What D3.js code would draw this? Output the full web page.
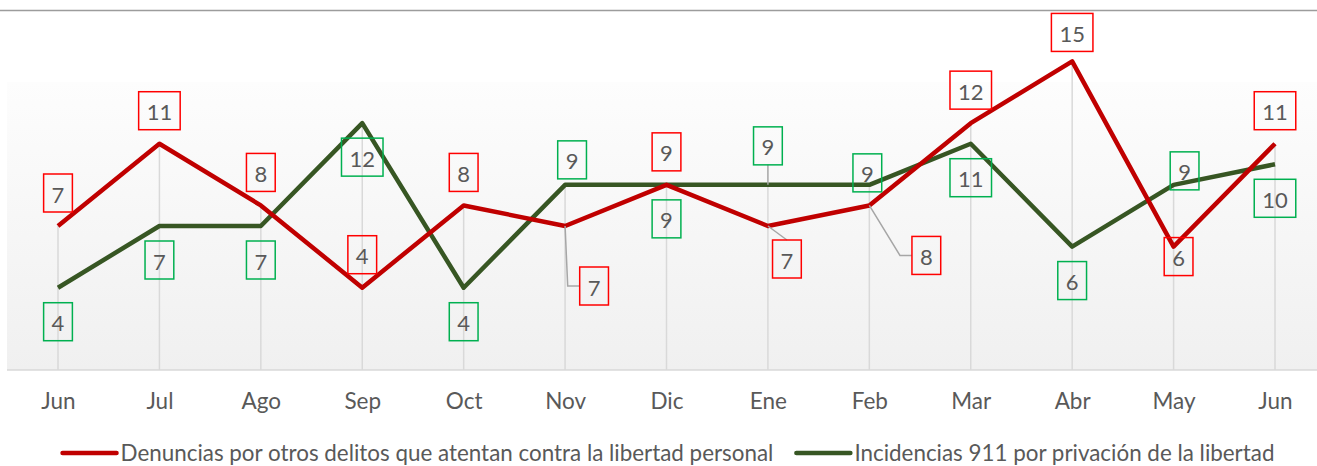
<!DOCTYPE html>
<html lang="es">
<head>
    <meta charset="UTF-8">
    <title>Denuncias e incidencias 911</title>
    <script src="https://cdn.jsdelivr.net/npm/d3@7"></script>
    <style>
        body {
            margin: 0;
            background: #fff;
            font-family: 'Lato', sans-serif;
        }
        .axis-label { font-size: 22.5px; fill: #595959; text-anchor: middle; }
        .legend-label { font-size: 22.4px; fill: #595959; }
        .data-label { font-size: 22px; fill: #595959; text-anchor: middle; dominant-baseline: central; }
    </style>
</head>
<body>
    <div id="chart"></div>
    <script>
        // categories (two "Jun": start and end of the period)
        const months = ['Jun', 'Jul', 'Ago', 'Sep', 'Oct', 'Nov', 'Dic', 'Ene', 'Feb', 'Mar', 'Abr', 'May', 'Jun'];
        const denuncias = [7, 11, 8, 4, 8, 7, 9, 7, 8, 12, 15, 6, 11];
        const incidencias = [4, 7, 7, 12, 4, 9, 9, 9, 9, 11, 6, 9, 10];
        const seriesNames = [
            'Denuncias por otros delitos que atentan contra la libertad personal',
            'Incidencias 911 por privación de la libertad'
        ];

        // label placement (offset of the label box from its point, in px), null = default side
        const denunciasLabelPos = [null, null, null, null, null,
            { dx: 29, dy: 60, leader: 'left' }, null,
            { dx: 19, dy: 33, leader: 'top' },
            { dx: 57, dy: 50, leader: 'left' }, null,
            { dx: 0, dy: -29 }, { dx: 5, dy: 10 }, null];
        const incidenciasLabelPos = [null, null, null, null, null,
            { dx: 7, dy: -25 }, null,
            { dx: 0, dy: -39, leader: 'bottom' },
            { dx: -2, dy: -12 }, null, null,
            { dx: 11, dy: -14 }, null];

        const width = 1317, height = 466;
        const plotLeft = 7, plotTop = 82, plotBottom = 370;

        const svg = d3.select('#chart').append('svg')
            .attr('width', width)
            .attr('height', height);

        const defs = svg.append('defs');
        const grad = defs.append('linearGradient')
            .attr('id', 'plotbg')
            .attr('x1', 0).attr('y1', 0).attr('x2', 0).attr('y2', 1);
        grad.append('stop').attr('offset', '0%').attr('stop-color', '#fdfdfd');
        grad.append('stop').attr('offset', '100%').attr('stop-color', '#f0f0f0');

        // top border
        svg.append('line')
            .attr('x1', 0).attr('x2', width)
            .attr('y1', 10.5).attr('y2', 10.5)
            .attr('stroke', '#9c9c9c')
            .attr('stroke-width', 1.6);

        svg.append('rect')
            .attr('x', plotLeft).attr('y', plotTop)
            .attr('width', width - plotLeft).attr('height', plotBottom - plotTop)
            .attr('fill', 'url(#plotbg)');

        const x = d3.scalePoint()
            .domain(d3.range(months.length))
            .range([58, 1275]);

        const y = d3.scaleLinear()
            .domain([0, 14])
            .range([plotBottom, plotTop]);

        // drop lines from the highest point to the axis
        svg.append('g')
            .selectAll('line')
            .data(months.map((m, i) => Math.max(denuncias[i], incidencias[i])))
            .join('line')
            .attr('x1', (d, i) => x(i)).attr('x2', (d, i) => x(i))
            .attr('y1', d => y(d)).attr('y2', plotBottom)
            .attr('stroke', '#d9d9d9')
            .attr('stroke-width', 1.5);

        // x axis
        const xAxis = svg.append('g')
            .attr('transform', `translate(0,${plotBottom})`)
            .call(d3.axisBottom(x).tickSize(0).tickPadding(0).tickFormat(i => months[i]))
            .attr('font-family', null)
            .attr('font-size', null);
        xAxis.select('.domain').remove();
        xAxis.selectAll('text')
            .attr('class', 'axis-label')
            .attr('fill', null)
            .attr('dy', null)
            .attr('y', 39);

        svg.append('line')
            .attr('x1', plotLeft).attr('x2', width)
            .attr('y1', plotBottom).attr('y2', plotBottom)
            .attr('stroke', '#d9d9d9')
            .attr('stroke-width', 1.5);

        const series = [
            { name: seriesNames[0], values: denuncias, color: '#c00000', box: '#ff0000', side: -33, pos: denunciasLabelPos },
            { name: seriesNames[1], values: incidencias, color: '#375623', box: '#00b050', side: 34, pos: incidenciasLabelPos }
        ];

        const line = d3.line()
            .x((d, i) => x(i))
            .y(d => y(d));

        // draw the green line first, red on top
        series.slice().reverse().forEach(s => {
            svg.append('path')
                .datum(s.values)
                .attr('fill', 'none')
                .attr('stroke', s.color)
                .attr('stroke-width', 4.5)
                .attr('stroke-linejoin', 'round')
                .attr('d', line);
        });

        // data labels
        const boxH = 38;
        series.forEach(s => {
            const g = svg.append('g');
            s.values.forEach((v, i) => {
                const px = x(i), py = y(v);
                const p = s.pos[i] || { dx: 0, dy: s.side };
                const cx = px + p.dx, cy = py + p.dy;
                const txt = g.append('text')
                    .attr('class', 'data-label')
                    .attr('x', cx).attr('y', cy + 1)
                    .text(v);
                const w = txt.node().getComputedTextLength() + 16;
                const left = cx - w / 2, top = cy - boxH / 2;

                if (p.leader) {
                    let pts;
                    if (p.leader === 'left') pts = [[px, py], [left - 12, cy], [left, cy]];
                    else if (p.leader === 'top') pts = [[px, py], [cx, top]];
                    else pts = [[px, py], [cx, top + boxH]];
                    g.insert('path', 'text')
                        .attr('d', d3.line()(pts))
                        .attr('fill', 'none')
                        .attr('stroke', '#a6a6a6')
                        .attr('stroke-width', 1.5);
                }

                g.insert('rect', 'text')
                    .attr('x', left).attr('y', top)
                    .attr('width', w).attr('height', boxH)
                    .attr('fill', 'none')
                    .attr('stroke', s.box)
                    .attr('stroke-width', 1.5);
            });
        });

        // legend, centred under the plot
        const legend = svg.append('g');
        let lx = 0;
        series.forEach((s, k) => {
            const item = legend.append('g');
            item.append('line')
                .attr('x1', 0).attr('x2', 54)
                .attr('y1', 0).attr('y2', 0)
                .attr('stroke', s.color)
                .attr('stroke-width', 4.5)
                .attr('stroke-linecap', 'round');
            const t = item.append('text')
                .attr('class', 'legend-label')
                .attr('x', 58).attr('y', 0)
                .attr('dy', '0.35em')
                .text(s.name);
            item.attr('transform', `translate(${lx},0)`);
            lx += 58 + t.node().getComputedTextLength() + 23;
        });
        const legendW = lx - 23;
        legend.attr('transform', `translate(${(width - legendW) / 2 + 10},453)`);
    </script>
</body>
</html>
